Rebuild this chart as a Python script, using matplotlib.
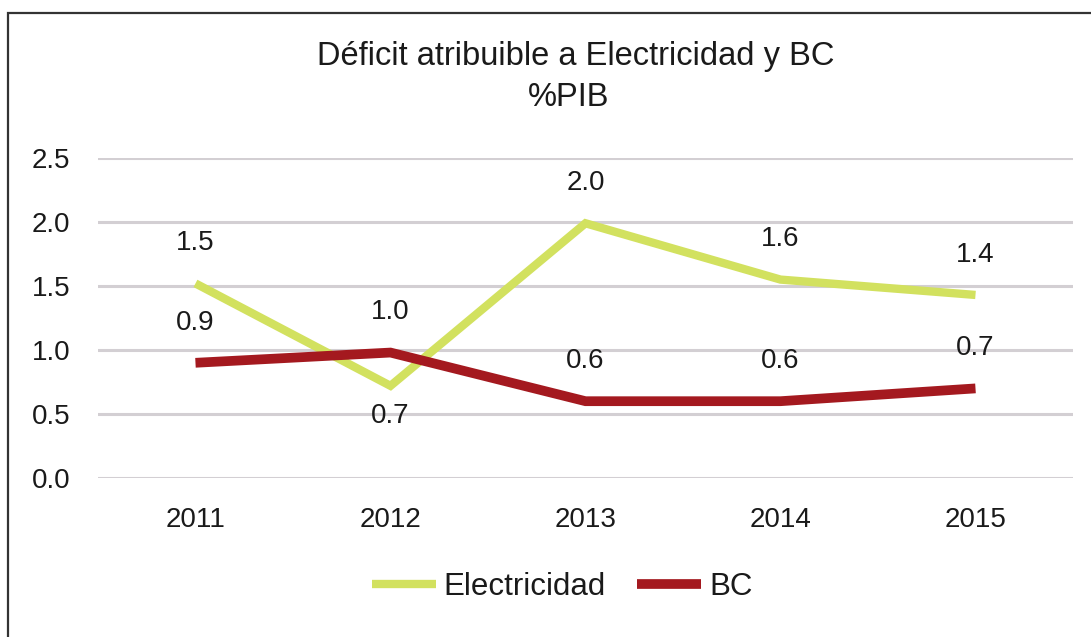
import matplotlib.pyplot as plt
from matplotlib.patches import Rectangle

years = ['2011', '2012', '2013', '2014', '2015']
electricidad = [1.52, 0.72, 1.99, 1.55, 1.43]
bc = [0.90, 0.98, 0.60, 0.60, 0.70]
elec_labels = ['1.5', '0.7', '2.0', '1.6', '1.4']
bc_labels = ['0.9', '1.0', '0.6', '0.6', '0.7']
elec_below = [False, True, False, False, False]

plt.rcParams['font.family'] = ['Liberation Sans', 'DejaVu Sans']
txt = '#1a1a1a'

fig = plt.figure(figsize=(10.91, 6.37), dpi=100)
ax = fig.add_axes([0.0898, 0.2496, 0.8937, 0.5024])

x = list(range(len(years)))
l1, = ax.plot(x, electricidad, color='#d2e15f', lw=6, solid_capstyle='butt',
              solid_joinstyle='miter', label='Electricidad', zorder=3)
l2, = ax.plot(x, bc, color='#a4191f', lw=7, solid_capstyle='butt',
              solid_joinstyle='miter', label='BC', zorder=3)

for i, (v, s, below) in enumerate(zip(electricidad, elec_labels, elec_below)):
    off = -22 if below else 29
    ax.annotate(s, (i, v), xytext=(0, off), textcoords='offset points',
                ha='center', va='center', fontsize=20, color=txt)
for i, (v, s) in enumerate(zip(bc, bc_labels)):
    ax.annotate(s, (i, v), xytext=(0, 29), textcoords='offset points',
                ha='center', va='center', fontsize=20, color=txt)

ax.set_xlim(-0.5, 4.5)
ax.set_ylim(0, 2.5)
ax.set_yticks([0, 0.5, 1.0, 1.5, 2.0, 2.5])
ax.set_yticklabels(['0.0', '0.5', '1.0', '1.5', '2.0', '2.5'])
ax.set_xticks(x)
ax.set_xticklabels(years)
ax.tick_params(axis='both', length=0, labelsize=20, labelcolor=txt)
ax.tick_params(axis='y', pad=20)
ax.tick_params(axis='x', pad=21)
ax.grid(axis='y', color='#d3cfd3', lw=2.2, zorder=1)
ax.set_axisbelow(True)
for sp in ax.spines.values():
    sp.set_visible(False)

fig.text(576 / 1091, 1 - 57 / 637, 'Déficit atribuible a Electricidad y BC',
         ha='center', va='center', fontsize=23.5, color=txt)
fig.text(569 / 1091, 1 - 97 / 637, '%PIB',
         ha='center', va='center', fontsize=23.5, color=txt)

fig.legend(handles=[l1, l2], loc='center', bbox_to_anchor=(562 / 1091, 1 - 587 / 637),
           ncol=2, frameon=False, fontsize=22.5, handlelength=2.05,
           handletextpad=0.25, columnspacing=1.0, labelcolor=txt)

fig.patches.append(Rectangle((8 / 1091, -0.1), 1.2, 1.1 - 13 / 637,
                             transform=fig.transFigure, fill=False,
                             edgecolor='#333333', lw=1.6))

fig.savefig('out.png', dpi=100)
